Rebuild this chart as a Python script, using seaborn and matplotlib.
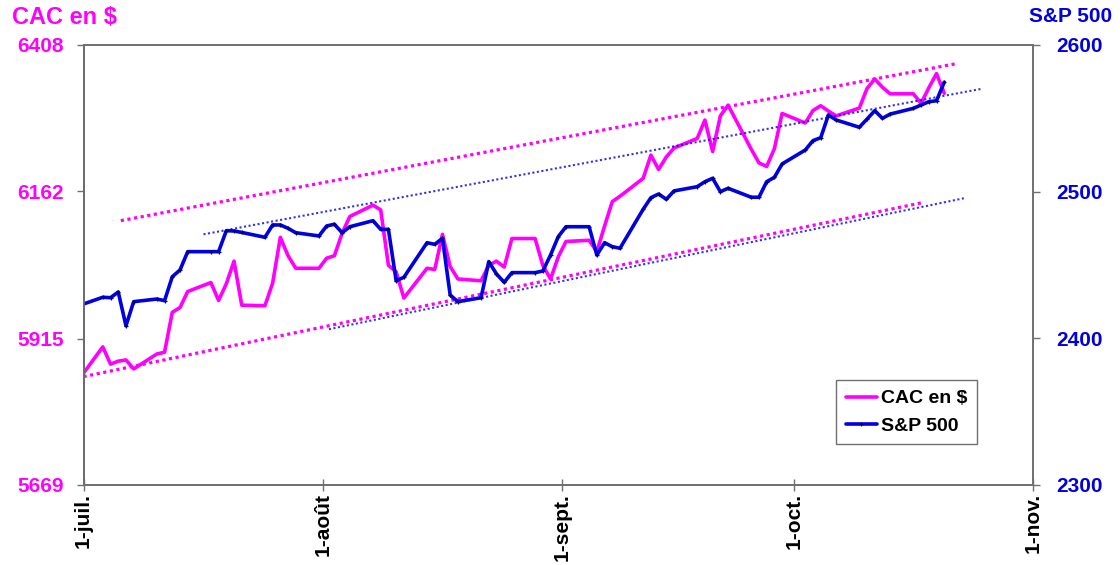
import matplotlib
matplotlib.use("Agg")
import matplotlib.pyplot as plt
import seaborn as sns
import pandas as pd

# ---------------- data ----------------
dates = pd.bdate_range("2017-06-30", "2017-10-20")  # trading days shown

cac_usd = [5848, 5901, 5872, 5877, 5879, 5864, 5889, 5892, 5959, 5967, 5994,
           6009, 5979, 6007, 6045, 5971, 5970, 6008, 6085, 6054, 6033, 6033,
           6050, 6054, 6092, 6120, 6139, 6131, 6038, 6027, 5983, 6033, 6031,
           6090, 6036, 6015, 6012, 6038, 6045, 6035, 6083, 6083, 6038, 6015, 6052,
           6078, 6080, 6061, 6104, 6145, 6154, 6184, 6223, 6199, 6220, 6235,
           6251, 6282, 6229, 6289, 6307, 6233, 6210, 6204, 6234, 6293,
           6277, 6298, 6306, 6297, 6289, 6302, 6335, 6351, 6337, 6326, 6326,
           6310, 6336, 6360, 6327]

spx = [2422.5, 2428.0, 2427.7, 2431.6, 2408.6, 2425.0, 2426.8, 2425.7, 2442.0,
       2446.6, 2459.1, 2459.1, 2459.1, 2473.4, 2473.2, 2472.2, 2468.9, 2477.3,
       2477.3, 2475.0, 2472.0, 2469.8,
       2476.6, 2477.8, 2472.0, 2476.1, 2480.2, 2474.3, 2474.3, 2439.3, 2441.6,
       2465.2, 2464.1, 2468.2, 2429.5, 2425.0, 2427.7, 2452.3, 2443.9, 2438.2,
       2444.8, 2444.8, 2445.9, 2456.8, 2469.3,
       2476.1, 2476.1, 2456.8, 2465.2, 2462.5, 2461.4, 2488.0, 2495.9, 2498.4,
       2494.8, 2500.5, 2503.4, 2506.8, 2509.1, 2500.0, 2502.3, 2496.2, 2496.2,
       2506.8, 2509.8, 2518.9,
       2528.4, 2534.8, 2536.8, 2552.3, 2548.9, 2543.9, 2549.5, 2555.2, 2550.0,
       2552.9, 2556.8, 2559.1, 2561.3, 2562.0, 2574.6]

# hand-drawn channel lines (start, end)
cac_upper_dates = ["2017-07-05 20:00", "2017-10-22 05:00"]
cac_upper_vals = [6113, 6377]
cac_lower_dates = ["2017-07-01 00:00", "2017-10-17 14:00"]
cac_lower_vals = [5851, 6143]
spx_upper_dates = ["2017-07-16 13:00", "2017-10-25 05:00"]
spx_upper_vals = [2470.9, 2570.0]
spx_lower_dates = ["2017-08-01 19:00", "2017-10-23 01:00"]
spx_lower_vals = [2406.2, 2495.5]

month_ticks = ["2017-07-01", "2017-08-01", "2017-09-01", "2017-10-01", "2017-11-01"]
month_labels = ["1-juil.", "1-août", "1-sept.", "1-oct.", "1-nov."]
cac_ticks = [5669, 5915, 6162, 6408]
spx_ticks = [2300, 2400, 2500, 2600]

# ---------------- style ----------------
sns.set_theme(style="white")
plt.rcParams["font.family"] = ["Liberation Sans", "DejaVu Sans"]
plt.rcParams["font.weight"] = "bold"
plt.rcParams["text.color"] = "black"

PINK = "#FF00FF"
BLUE = "#0000E0"
GRAY = "#707070"

fig = plt.figure(figsize=(11.2, 5.65), dpi=100)
ax = fig.add_axes([83.5 / 1120, 1 - 485 / 565, (1033 - 83.5) / 1120, 440 / 565])
ax2 = ax.twinx()

df = pd.DataFrame({"date": dates + pd.Timedelta(hours=12),
                   "CAC en $": cac_usd, "S&P 500": spx})

def trend(d, v):
    return pd.DataFrame({"date": pd.to_datetime(d), "val": v})

sns.lineplot(data=trend(cac_upper_dates, cac_upper_vals), x="date", y="val", ax=ax,
             color=PINK, lw=2.3, linestyle=(0, (1, 1.1)))
sns.lineplot(data=trend(cac_lower_dates, cac_lower_vals), x="date", y="val", ax=ax,
             color=PINK, lw=2.3, linestyle=(0, (1, 1.1)))
sns.lineplot(data=df, x="date", y="CAC en $", ax=ax, color=PINK, lw=2.6,
             label="CAC en $", legend=False)

sns.lineplot(data=trend(spx_upper_dates, spx_upper_vals), x="date", y="val", ax=ax2,
             color=BLUE, lw=1.5, linestyle=(0, (1, 1.2)), alpha=0.8)
sns.lineplot(data=trend(spx_lower_dates, spx_lower_vals), x="date", y="val", ax=ax2,
             color=BLUE, lw=1.5, linestyle=(0, (1, 1.2)), alpha=0.8)
sns.lineplot(data=df, x="date", y="S&P 500", ax=ax2, color=BLUE, lw=2.6,
             marker="+", markersize=3.5, markeredgewidth=0.9, markeredgecolor="#000070",
             label="S&P 500", legend=False)

# ---------------- axes ----------------
ax.set_xlim(pd.Timestamp(month_ticks[0]), pd.Timestamp(month_ticks[-1]))
ax.set_ylim(cac_ticks[0], cac_ticks[-1])
ax2.set_ylim(spx_ticks[0], spx_ticks[-1])
ax.set_xticks(pd.to_datetime(month_ticks))
ax.set_xticklabels(month_labels, rotation=90, fontsize=15, fontweight="bold", color="black")
ax.set_yticks(cac_ticks)
ax.set_yticklabels([str(t) for t in cac_ticks], fontsize=15, fontweight="bold", color=PINK)
ax2.set_yticks(spx_ticks)
ax2.set_yticklabels([str(t) for t in spx_ticks], fontsize=15, fontweight="bold", color=BLUE)
ax.set_xlabel("")
ax.set_ylabel("")
ax2.set_ylabel("")
ax.grid(False)
ax2.grid(False)

for a in (ax, ax2):
    for s in a.spines.values():
        s.set_color(GRAY)
        s.set_linewidth(1.2)
        s.set_visible(True)
ax.spines["left"].set_color("#404040")
ax.spines["bottom"].set_color("#606060")

ax.tick_params(axis="y", direction="out", length=5, width=1, color=GRAY, pad=9, left=True)
ax2.tick_params(axis="y", direction="out", length=5, width=1, color=GRAY, pad=12, right=True)
ax.tick_params(axis="x", direction="inout", length=8, width=1, color=GRAY, pad=2, bottom=True)

fig.text(12 / 1120, 1 - 18 / 565, "CAC en $", color=PINK, fontsize=17,
         fontweight="bold", va="center", ha="left")
fig.text(1112 / 1120, 1 - 16 / 565, "S&P 500", color=BLUE, fontsize=15,
         fontweight="bold", va="center", ha="right")

h1, l1 = ax.get_legend_handles_labels()
h2, l2 = ax2.get_legend_handles_labels()
leg = ax2.legend(h1 + h2, l1 + l2, loc="upper left",
                 bbox_to_anchor=((836 - 83.5) / 949.5, 1 - (380 - 45) / 440),
                 prop={"size": 14, "weight": "bold"}, frameon=True, fancybox=False,
                 shadow=False, framealpha=1, edgecolor=GRAY, handlelength=1.6,
                 handletextpad=0.2, borderpad=0.5, labelspacing=0.5, borderaxespad=0)
leg.get_frame().set_linewidth(1.0)
for t in leg.get_texts():
    t.set_color("black")

fig.savefig("out.png", dpi=100)
